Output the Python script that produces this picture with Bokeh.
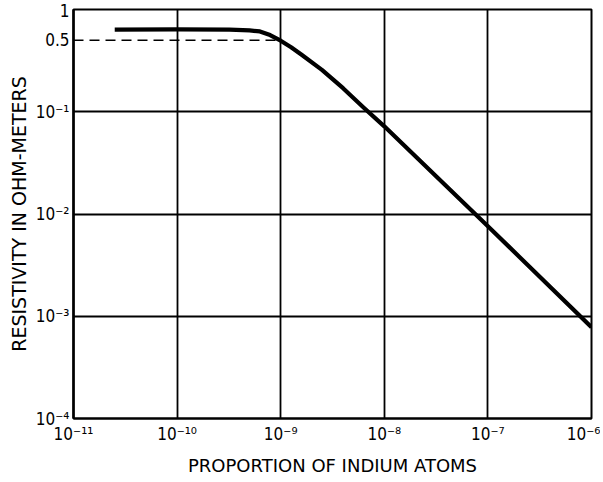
from bokeh.plotting import figure
from bokeh.models import Range1d, FixedTicker
from bokeh.embed import file_html
from bokeh.resources import INLINE

# ---- data ----
proportion = [2.5e-11, 1e-10, 3.2e-10, 5e-10, 6.3e-10, 7.9e-10, 1e-9, 1.26e-9,
              1.58e-9, 2.5e-9, 4e-9, 6.3e-9, 1e-8, 1e-7, 1e-6]
resistivity = [0.635, 0.64, 0.635, 0.624, 0.61, 0.562, 0.495, 0.427,
               0.363, 0.257, 0.17, 0.11, 0.072, 0.0076, 0.00078]

dash_x = [1e-11, 1e-9]
dash_y = [0.5, 0.5]

x_ticks = [1e-11, 1e-10, 1e-9, 1e-8, 1e-7, 1e-6]
x_tick_labels = ["10⁻¹¹", "10⁻¹⁰", "10⁻⁹", "10⁻⁸", "10⁻⁷", "10⁻⁶"]
y_ticks = [1e-4, 1e-3, 1e-2, 1e-1, 0.5, 1.0]
y_tick_labels = ["10⁻⁴", "10⁻³", "10⁻²", "10⁻¹", "0.5", "1"]
y_grid_ticks = [1e-4, 1e-3, 1e-2, 1e-1, 1.0]

x_title = "PROPORTION OF INDIUM ATOMS"
y_title = "RESISTIVITY IN OHM-METERS"

FONT = "DejaVu Sans"
TICK_FONT = "DejaVu Sans Condensed"

p = figure(width=600, height=480, x_axis_type="log", y_axis_type="log",
           output_backend="svg", toolbar_location=None,
           x_range=Range1d(1e-11, 1e-6), y_range=Range1d(1e-4, 1.0),
           min_border_left=73, min_border_right=9, min_border_top=9,
           min_border_bottom=62)

p.background_fill_color = "white"
p.border_fill_color = "white"
p.outline_line_color = "black"
p.outline_line_width = 2

p.xaxis.ticker = FixedTicker(ticks=x_ticks)
p.yaxis.ticker = FixedTicker(ticks=y_ticks)
p.xaxis.major_label_overrides = {t: l for t, l in zip(x_ticks, x_tick_labels)}
p.yaxis.major_label_overrides = {t: l for t, l in zip(y_ticks, y_tick_labels)}

p.xgrid.ticker = FixedTicker(ticks=x_ticks)
p.ygrid.ticker = FixedTicker(ticks=y_grid_ticks)
for g in (p.xgrid, p.ygrid):
    g.grid_line_color = "black"
    g.grid_line_width = 1.8
    g.grid_line_alpha = 1.0

for ax in (p.xaxis, p.yaxis):
    ax.axis_line_color = "black"
    ax.major_tick_line_color = None
    ax.minor_tick_line_color = None
    ax.major_tick_out = 0
    ax.major_tick_in = 0
    ax.major_label_text_font = TICK_FONT
    ax.major_label_text_font_size = "17px"
    ax.major_label_text_color = "black"
    ax.axis_label_text_font = FONT
    ax.axis_label_text_font_style = "normal"
    ax.axis_label_text_color = "black"
    ax.axis_label_text_font_size = "18px"

p.yaxis.axis_line_width = 2.5
p.xaxis.axis_line_width = 2
p.yaxis.major_label_standoff = 4
p.xaxis.major_label_standoff = 5
p.yaxis.axis_label = y_title
p.xaxis.axis_label = x_title
p.yaxis.axis_label_standoff = 3
p.xaxis.axis_label_standoff = 8
p.yaxis.axis_label_text_font_size = "19px"

p.line(dash_x, dash_y, line_color="black", line_width=1.6, line_dash="10 6")
p.line(proportion, resistivity, line_color="black", line_width=4.2,
       line_join="round", line_cap="butt")

open("out.html", "w").write(file_html(p, INLINE))
